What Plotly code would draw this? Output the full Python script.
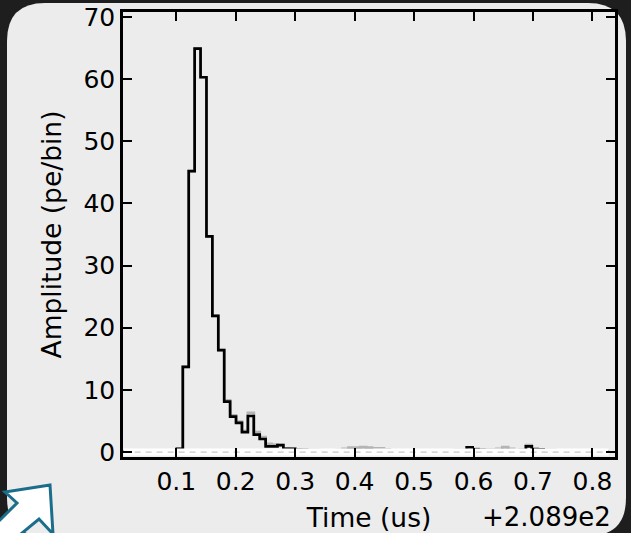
import plotly.graph_objects as go

# ---- data ----
bin_start = 0.0115          # left edge of first bin (offset from 208.9 us)
bin_width = 0.00995
amplitude = [
    0.1, 0.1, 0.1, 0.1, 0.1, 0.1, 0.1, 0.1, 0.1,          # 0.01 - 0.10
    0.5, 13.7, 45.2, 64.9, 60.3, 34.7, 21.9, 16.4, 8.1, 5.7,  # 0.10 - 0.20
    4.7, 3.2, 5.8, 2.8, 2.1, 0.9, 0.9, 1.1, 0.5, 0.5,    # 0.20 - 0.30
    0.3, 0.3, 0.2, 0.2, 0.2, 0.1, 0.1, 0.1, 0.2, 0.3,    # 0.30 - 0.40
    0.3, 0.3, 0.3, 0.2, 0.2, 0.2, 0.1, 0.1, 0.1, 0.1,    # 0.40 - 0.50
    0.1, 0.1, 0.1, 0.1, 0.1, 0.1, 0.1, 0.2, 0.2, 0.75,   # 0.50 - 0.60
    0.4, 0.3, 0.2, 0.2, 0.2, 0.3, 0.2, 0.2, 0.2, 0.9,    # 0.60 - 0.70
    0.4, 0.4, 0.2, 0.2, 0.2, 0.1, 0.1, 0.1, 0.1, 0.1,    # 0.70 - 0.80
    0.1, 0.1, 0.1,                                        # 0.80 - 0.84
]
overlay = [
    0.1, 0.1, 0.1, 0.1, 0.1, 0.1, 0.1, 0.1, 0.1,
    0.5, 13.7, 45.2, 64.9, 60.3, 34.7, 21.9, 16.4, 8.3, 5.9,
    4.9, 3.4, 6.3, 3.2, 2.4, 1.3, 1.2, 1.1, 0.6, 0.5,
    0.4, 0.3, 0.3, 0.3, 0.2, 0.2, 0.2, 0.3, 0.5, 0.7,
    0.7, 0.8, 0.7, 0.6, 0.6, 0.4, 0.2, 0.2, 0.1, 0.1,
    0.1, 0.1, 0.2, 0.2, 0.2, 0.2, 0.2, 0.3, 0.3, 0.75,
    0.5, 0.4, 0.4, 0.4, 0.5, 0.8, 0.5, 0.3, 0.4, 1.1,
    0.6, 0.4, 0.3, 0.3, 0.2, 0.2, 0.2, 0.1, 0.1, 0.1,
    0.1, 0.1, 0.1,
]
x_ticks = [0.1, 0.2, 0.3, 0.4, 0.5, 0.6, 0.7, 0.8]
y_ticks = [0, 10, 20, 30, 40, 50, 60, 70]
x_offset_label = "+2.089e2"
x_title = "Time (us)"
y_title = "Amplitude (pe/bin)"

# ---- geometry ----
W, H = 631, 533
L, R, T, B = 123, 16, 12, 76
pw, ph = W - L - R, H - T - B

n = len(amplitude)
edges = [bin_start + bin_width * i for i in range(n + 1)]
step_x = edges
step_y = amplitude + [amplitude[-1]]
step_y2 = overlay + [overlay[-1]]

FONT = "DejaVu Sans"

fig = go.Figure()
fig.add_trace(go.Scatter(x=step_x, y=step_y2, mode="lines", line_shape="hv",
                         line=dict(color="#b4b4b4", width=2.7), hoverinfo="skip"))
fig.add_trace(go.Scatter(x=step_x, y=step_y, mode="lines", line_shape="hv",
                         line=dict(color="#000000", width=2.7)))
# white baseline band with faint dashes (as in the reference)
fig.add_trace(go.Scatter(x=[edges[0], edges[-1]], y=[0, 0], mode="lines",
                         line=dict(color="#ffffff", width=7), hoverinfo="skip"))
fig.add_trace(go.Scatter(x=[edges[0], edges[-1]], y=[0, 0], mode="lines",
                         line=dict(color="#c8c8c8", width=1.2, dash="6px,5px"),
                         hoverinfo="skip"))


def px2paper(px, py):
    return (px - L) / pw, (H - B - py) / ph


def P(px, py):
    a, b = px2paper(px, py)
    return f"{a:.5f},{b:.5f}"


# rounded light panel
x0, y0, x1, y1, r = 7, 3, 626, 536, 38
panel = (f"M {P(x0 + r, y0)} L {P(x1 - r, y0)} Q {P(x1, y0)} {P(x1, y0 + r)} "
         f"L {P(x1, y1 - r)} Q {P(x1, y1)} {P(x1 - r, y1)} "
         f"L {P(x0 + r, y1)} Q {P(x0, y1)} {P(x0, y1 - r)} "
         f"L {P(x0, y0 + r)} Q {P(x0, y0)} {P(x0 + r, y0)} Z")
arrow = (f"M {P(50, 485)} L {P(5, 492)} L {P(17, 503)} L {P(-12, 532)} "
         f"L {P(4, 548)} L {P(39, 519)} L {P(53, 534)} Z")

fig.update_layout(
    width=W, height=H,
    margin=dict(l=L, r=R, t=T, b=B, pad=0, autoexpand=False),
    paper_bgcolor="#1e1e1e",
    plot_bgcolor="#ececec",
    showlegend=False,
    font=dict(family=FONT, color="#000000", size=25),
    shapes=[
        dict(type="path", path=panel, xref="paper", yref="paper",
             fillcolor="#ececec", line=dict(width=0), layer="below"),
        dict(type="path", path=arrow, xref="paper", yref="paper",
             fillcolor="#ffffff", line=dict(color="#1b6d8c", width=3), layer="above"),
    ],
    annotations=[
        dict(text=x_offset_label, xref="paper", yref="paper",
             x=px2paper(613, 0)[0], y=px2paper(0, 517)[1],
             xanchor="right", yanchor="middle", showarrow=False,
             font=dict(family=FONT, size=26, color="#000000")),
    ],
)
fig.update_xaxes(
    range=[0.0104, 0.838], tickvals=x_ticks, ticktext=[f"{v:.1f}" for v in x_ticks],
    ticks="inside", ticklen=9, tickwidth=1.5, tickcolor="#000000",
    showline=True, linewidth=2.5, linecolor="#000000", mirror="ticks",
    showgrid=False, zeroline=False, ticklabelstandoff=0, automargin=False,
    tickfont=dict(family=FONT, size=25),
    title=dict(text=x_title, font=dict(family=FONT, size=26.5), standoff=16),
)
fig.update_yaxes(
    range=[-0.8, 70.8], tickvals=y_ticks,
    ticks="inside", ticklen=9, tickwidth=1.5, tickcolor="#000000",
    showline=True, linewidth=2.5, linecolor="#000000", mirror="ticks",
    showgrid=False, zeroline=False, ticklabelstandoff=0, automargin=False,
    tickfont=dict(family=FONT, size=25),
    title=dict(text=y_title, font=dict(family=FONT, size=26.5), standoff=15),
)

fig.write_html("out.html",
               config={"displayModeBar": False},
               post_script="document.body.style.margin='0';"
                           "document.body.style.background='#1e1e1e';")
